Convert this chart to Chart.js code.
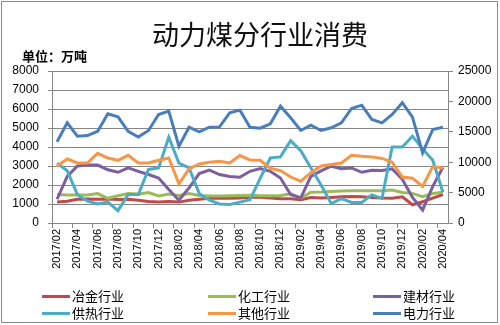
<!DOCTYPE html>
<html lang="zh">
<head>
<meta charset="UTF-8" />
<title>动力煤分行业消费</title>
<script src="https://cdn.jsdelivr.net/npm/chart.js@4.4.0/dist/chart.umd.min.js"></script>
<style>
  html, body { margin: 0; padding: 0; background: #fff; }
  #wrap { position: relative; width: 500px; height: 325px; overflow: hidden; }
  #frame { position: absolute; left: 1px; top: 1px; width: 497px; height: 322px; border: 1px solid #8a8a8a; box-sizing: border-box; }
  #chart { position: absolute; left: 0; top: 0; }
  #title { position: absolute; left: 0; width: 520px; top: 16px; text-align: center;
    font-family: "Noto Sans CJK SC", sans-serif; font-size: 27px; line-height: 36px; color: #111; }
  #unit { position: absolute; left: 22px; top: 47px; font-family: "Noto Sans CJK SC", sans-serif;
    font-weight: bold; font-size: 13px; line-height: 18px; color: #000; }
  .lg { position: absolute; font-family: "Noto Sans CJK SC", sans-serif; font-size: 13px; line-height: 16px; color: #000; white-space: nowrap; }
  .lg i { display: inline-block; width: 28px; height: 3px; vertical-align: middle; margin-right: 2px; position: relative; top: -1px; }
</style>
</head>
<body>
<div id="wrap">
  <canvas id="chart" width="500" height="325"></canvas>
  <div id="frame"></div>
  <div id="title">动力煤分行业消费</div>
  <div id="unit">单位：万吨</div>
  <div id="legend"></div>
</div>
<script>
// months
const labels = ['2017/02','2017/03','2017/04','2017/05','2017/06','2017/07','2017/08','2017/09','2017/10','2017/11',
  '2017/12','2018/01','2018/02','2018/03','2018/04','2018/05','2018/06','2018/07','2018/08','2018/09',
  '2018/10','2018/11','2018/12','2019/01','2019/02','2019/03','2019/04','2019/05','2019/06','2019/07',
  '2019/08','2019/09','2019/10','2019/11','2019/12','2020/01','2020/02','2020/03','2020/04'];

// left axis (万吨)
const metallurgy = [1100,1150,1250,1260,1250,1260,1240,1250,1200,1130,1100,1130,1100,1200,1250,1300,1300,1300,1320,1350,
  1360,1320,1280,1280,1220,1340,1310,1340,1380,1400,1380,1340,1310,1300,1380,960,1120,1310,1500];
const chemical = [1500,1480,1470,1480,1550,1300,1430,1550,1520,1600,1420,1520,1450,1550,1450,1420,1420,1430,1450,1460,
  1440,1440,1450,1540,1310,1620,1630,1660,1690,1700,1700,1700,1700,1740,1610,1560,1380,1550,1620];
const building = [1250,2450,3000,3050,3050,2800,2670,2900,2720,2550,2370,1760,1200,1850,2600,2780,2550,2450,2410,2720,
  2860,2720,2370,1500,1320,2450,2740,2990,2860,2900,2670,2780,2760,2850,2300,1350,680,1930,2930];
const heating = [3150,2750,1500,1150,1000,1100,650,1500,1500,2820,2900,4520,3150,2900,1550,1200,1000,980,1100,1220,
  2350,3420,3480,4330,3800,2900,2000,1020,1280,1080,1080,1480,1300,4000,4000,4570,3900,3300,1620];
const others = [3000,3370,3160,3160,3670,3420,3300,3560,3160,3160,3300,3420,2060,2850,3110,3200,3250,3160,3550,3320,
  3300,2880,2760,2420,2200,2650,3000,3080,3160,3560,3510,3480,3400,3200,2420,2360,1920,2980,2880];
// right axis
const power = [13350,16470,14280,14380,15090,17970,17470,15090,14130,15220,17840,18410,12630,15750,15000,15750,15810,18130,18560,15750,
  15590,16310,19220,17310,15220,16090,15220,15660,16470,18840,19380,17030,16470,17840,19780,17410,11530,15380,15750];

const names = ['冶金行业','化工行业','建材行业','供热行业','其他行业','电力行业'];
const colors = ['#BE4B48','#9BBB59','#7D5FA0','#4BACC6','#F79646','#4A7EBB'];
const seriesData = [metallurgy, chemical, building, heating, others, power];

const gridGray = '#868686';
const tickFont = { family: 'Liberation Sans, Arial, sans-serif', size: 12 };

const datasets = seriesData.map((d, i) => ({
  label: names[i],
  data: d,
  borderColor: colors[i],
  backgroundColor: colors[i],
  borderWidth: 3,
  pointRadius: 0,
  tension: 0,
  fill: false,
  yAxisID: i === 5 ? 'y1' : 'y',
  order: 6 - i
}));

new Chart(document.getElementById('chart'), {
  type: 'line',
  data: { labels: labels, datasets: datasets },
  options: {
    responsive: false,
    animation: false,
    layout: { padding: { top: 71, bottom: 52, left: 0, right: 0 } },
    plugins: { legend: { display: false }, title: { display: false }, tooltip: { enabled: false } },
    scales: {
      x: {
        offset: true,
        grid: {
          offset: true, drawOnChartArea: false, tickLength: 5,
          color: ctx => (ctx.index % 2 === 0 ? gridGray : 'rgba(0,0,0,0)')
        },
        border: { display: true, color: gridGray },
        ticks: {
          autoSkip: false, maxRotation: 90, minRotation: 90, padding: 1, color: '#000',
          font: { family: 'Liberation Sans, Arial, sans-serif', size: 11 },
          callback: function (v, i) { return i % 2 === 0 ? this.getLabelForValue(v) : ''; }
        },
        afterFit: s => { s.height = 50; }
      },
      y: {
        position: 'left', min: 0, max: 8000,
        grid: { color: gridGray, tickLength: 4 },
        border: { display: true, color: gridGray },
        ticks: { stepSize: 1000, padding: 9, color: '#000', font: tickFont, callback: v => String(v) },
        afterFit: s => { s.width = 52; }
      },
      y1: {
        position: 'right', min: 0, max: 25000,
        grid: { drawOnChartArea: false, color: gridGray, tickLength: 5 },
        border: { display: true, color: gridGray },
        ticks: { stepSize: 5000, padding: 5, color: '#000', font: tickFont, callback: v => String(v) },
        afterFit: s => { s.width = 52; }
      }
    }
  }
});

// legend, 3 columns x 2 rows
const legendPos = [[42, 288], [208, 288], [373, 288], [42, 305], [208, 305], [373, 305]];
const legend = document.getElementById('legend');
names.forEach((n, i) => {
  const el = document.createElement('div');
  el.className = 'lg';
  el.style.left = legendPos[i][0] + 'px';
  el.style.top = legendPos[i][1] + 'px';
  el.innerHTML = '<i style="background:' + colors[i] + '"></i>' + n;
  legend.appendChild(el);
});
</script>
</body>
</html>
